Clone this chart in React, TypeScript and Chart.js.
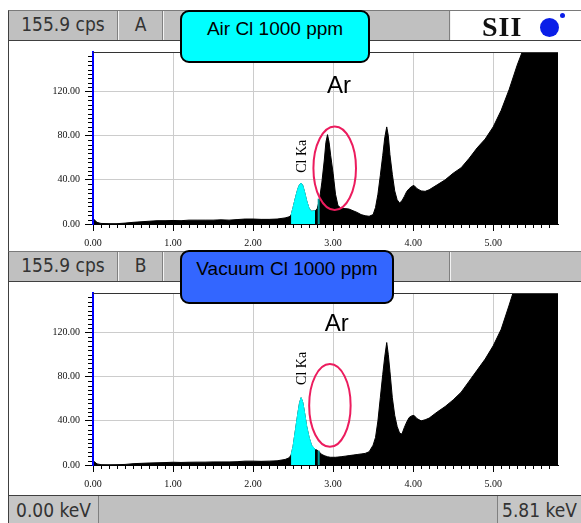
import React, { useEffect, useRef } from "react";
import { Chart, registerables } from "chart.js";

Chart.register(...registerables);

// energy channels shared by both spectra (keV)
const energyKeV = [
  0.0, 0.05, 0.1, 0.2, 0.3, 0.4, 0.5, 0.6, 0.7, 0.8,
  0.9, 1.0, 1.1, 1.2, 1.3, 1.4, 1.5, 1.6, 1.7, 1.8,
  1.9, 2.0, 2.1, 2.2, 2.3, 2.4, 2.45, 2.475, 2.5, 2.53,
  2.56, 2.58, 2.6, 2.62, 2.64, 2.67, 2.7, 2.73, 2.775, 2.8,
  2.83, 2.86, 2.89, 2.91, 2.93, 2.95, 2.97, 3.0, 3.03, 3.06,
  3.1, 3.15, 3.2, 3.25, 3.3, 3.35, 3.4, 3.45, 3.5, 3.53,
  3.56, 3.59, 3.62, 3.645, 3.67, 3.69, 3.71, 3.74, 3.77, 3.8,
  3.83, 3.86, 3.89, 3.92, 3.95, 3.98, 4.01, 4.05, 4.1, 4.15,
  4.2, 4.3, 4.4, 4.5, 4.6, 4.7, 4.8, 4.9, 5.0, 5.1,
  5.2, 5.3, 5.4, 5.5, 5.6, 5.7, 5.81,
];

// A: Air Cl 1000 ppm (cps)
const airCps = [
  5, 1.5, 0.5, 0.3, 0.3, 0.8, 1.5, 2.0, 2.5, 3.0,
  3.0, 3.2, 3.0, 3.5, 3.5, 3.5, 3.5, 3.8, 3.5, 4.0,
  4.5, 4.5, 4.2, 4.2, 4.5, 5.5, 6.5, 8, 15, 24,
  32, 35.5, 37, 35, 30, 21, 14, 11.5, 12, 13.5,
  22, 38, 58, 74, 81, 74, 62, 46, 27, 17,
  14, 14, 13.5, 12, 10.5, 8.5, 7.5, 7, 8.5, 15,
  27, 44, 62, 78, 88, 80, 63, 45, 30, 22,
  19, 21, 25, 29.5, 32, 34, 35, 32, 30, 29.6,
  31, 35.5, 40, 46, 51, 59.5, 69, 77, 88, 103,
  122, 144, 163, 185, 205, 225, 245,
];

// B: Vacuum Cl 1000 ppm (cps)
const vacuumCps = [
  4, 1, 0.3, 0.2, 0.3, 0.5, 1.2, 1.5, 1.8, 2.0,
  2.2, 2.5, 2.3, 2.5, 2.6, 2.6, 2.8, 2.8, 2.8, 3.0,
  3.5, 3.5, 3.3, 3.5, 3.8, 5.0, 6.5, 9, 17, 32,
  47, 56, 61, 57, 49, 35, 25, 18, 14, 13.5,
  11.5, 9.5, 8.5, 8, 7.5, 7.2, 7, 7, 7, 7.2,
  7.5, 8, 8.5, 9, 9.5, 10, 10.5, 12, 18, 25,
  40, 61, 82, 98, 111, 100, 85, 61, 45, 35,
  29, 28, 34, 39, 43, 44.5, 45, 42, 40, 41,
  42.5, 48, 53, 59, 66, 76, 86, 96, 108, 123,
  145, 168, 190, 210, 230, 250, 270,
];

const clKaWindow = [2.475, 2.775];
const roiMarkerKeV = 2.82;
const roiMarkerAir = 23;
const roiMarkerVacuum = 13;

const xTickKeV = [0, 1, 2, 3, 4, 5];
const yTickCps = [0, 40, 80, 120];
const fullScaleCps = 155.9;
const maxKeV = 5.81;

// label / ring positions in data units: [keV, cps] and ring radii [keV, cps]
const airNotes = { ar: [3.075, 124.4], cl: [2.61, 61.4], ring: [3.02, 50.5, 0.266, 37.8] };
const vacuumNotes = { ar: [3.046, 127.6], cl: [2.61, 87.6], ring: [2.96, 54, 0.259, 37.5] };

const uiFont = '"Liberation Sans Narrow", "DejaVu Sans Condensed", "Liberation Sans", sans-serif';

const overlay = {
  id: "xrfNotes",
  afterDraw(chart: any, _args: any, opts: any) {
    const { ctx, chartArea: a, scales } = chart;
    const x = scales.x;
    const y = scales.y;
    ctx.save();

    // plot frame top
    ctx.strokeStyle = "#333";
    ctx.lineWidth = 1;
    ctx.beginPath();
    ctx.moveTo(a.left, a.top + 0.5);
    ctx.lineTo(a.right, a.top + 0.5);
    ctx.stroke();

    // minor ticks
    ctx.strokeStyle = "#000";
    ctx.beginPath();
    for (let t = 1; t < Math.round(maxKeV * 10); t++) {
      if (t % 10 === 0) continue;
      const px = Math.round(x.getPixelForValue(t / 10)) + 0.5;
      ctx.moveTo(px, a.bottom);
      ctx.lineTo(px, a.bottom + 4);
    }
    for (let v = 4; v < fullScaleCps; v += 4) {
      if (v % 40 === 0) continue;
      const py = Math.round(y.getPixelForValue(v)) + 0.5;
      ctx.moveTo(a.left - 5, py);
      ctx.lineTo(a.left - 1, py);
    }
    ctx.stroke();

    // Ar label
    ctx.fillStyle = "#000";
    ctx.font = '24px "Liberation Sans", Arial, sans-serif';
    ctx.textAlign = "center";
    ctx.textBaseline = "middle";
    ctx.fillText("Ar", x.getPixelForValue(opts.ar[0]), y.getPixelForValue(opts.ar[1]));

    // Cl Ka label, vertical
    ctx.save();
    ctx.translate(x.getPixelForValue(opts.cl[0]), y.getPixelForValue(opts.cl[1]));
    ctx.rotate(-Math.PI / 2);
    ctx.font = '14px "Liberation Serif", serif';
    ctx.fillText("Cl Ka", 0, 0);
    ctx.restore();

    // ring
    const [re, rc, rk, rv] = opts.ring;
    const cx = x.getPixelForValue(re);
    const cy = y.getPixelForValue(rc);
    const rx = Math.abs(x.getPixelForValue(re + rk) - cx);
    const ry = Math.abs(y.getPixelForValue(rc + rv) - cy);
    ctx.strokeStyle = "#ec1c5e";
    ctx.lineWidth = 2;
    ctx.beginPath();
    ctx.ellipse(cx, cy, rx, ry, 0, 0, Math.PI * 2);
    ctx.stroke();

    ctx.restore();
  },
};

type PanelProps = {
  top: number;
  height: number;
  padTop: number;
  axisHeight: number;
  counts: number[];
  markerCps: number;
  notes: any;
};

const SpectrumPanel: React.FC<PanelProps> = ({ top, height, padTop, axisHeight, counts, markerCps, notes }) => {
  const canvasRef = useRef<HTMLCanvasElement>(null);

  useEffect(() => {
    const ctx = canvasRef.current?.getContext("2d");
    if (!ctx) return;
    const points = energyKeV.map((e, i) => ({ x: e, y: counts[i] }));
    const clPoints = points.filter((p) => p.x >= clKaWindow[0] && p.x <= clKaWindow[1]);
    const tickFont = { family: '"Liberation Serif", serif', size: 10 };

    const chart = new Chart(ctx, {
      type: "line",
      data: {
        datasets: [
          {
            data: [{ x: roiMarkerKeV, y: 0 }, { x: roiMarkerKeV, y: markerCps }],
            borderColor: "#009a9a",
            borderWidth: 2,
            pointRadius: 0,
            fill: false,
          },
          {
            data: clPoints,
            borderColor: "#00ffff",
            backgroundColor: "#00ffff",
            borderWidth: 1,
            pointRadius: 0,
            fill: "origin",
          },
          {
            data: points,
            borderColor: "#000",
            backgroundColor: "#000",
            borderWidth: 1,
            pointRadius: 0,
            fill: "origin",
          },
        ],
      },
      options: {
        animation: false,
        responsive: false,
        events: [],
        layout: { padding: { top: padTop, right: 23, left: 0, bottom: 0 } },
        plugins: {
          legend: { display: false },
          tooltip: { enabled: false },
          xrfNotes: notes,
        } as any,
        scales: {
          x: {
            type: "linear",
            min: 0,
            max: maxKeV,
            afterFit: (s: any) => {
              s.height = axisHeight;
            },
            afterBuildTicks: (s: any) => {
              s.ticks = xTickKeV.map((v) => ({ value: v }));
            },
            grid: { color: "#cccccc", tickColor: "#000", tickLength: 7 },
            border: { color: "#000", width: 1, z: 1 },
            ticks: {
              callback: (v: any) => Number(v).toFixed(2),
              font: tickFont,
              color: "#111",
              padding: 6,
              maxRotation: 0,
              autoSkip: false,
            },
          },
          y: {
            type: "linear",
            min: 0,
            max: fullScaleCps,
            afterFit: (s: any) => {
              s.width = 84;
            },
            afterBuildTicks: (s: any) => {
              s.ticks = yTickCps.map((v) => ({ value: v }));
            },
            grid: { color: "#cccccc", tickColor: "#000", tickLength: 8 },
            border: { color: "#0000ff", width: 2, z: 1 },
            ticks: {
              callback: (v: any) => Number(v).toFixed(2),
              font: tickFont,
              color: "#111",
              padding: 5,
            },
          },
        },
      },
      plugins: [overlay],
    });

    return () => {
      chart.destroy();
    };
  }, []);

  return (
    <canvas
      ref={canvasRef}
      width={572}
      height={height}
      style={{ position: "absolute", left: 9, top, width: 572, height }}
    />
  );
};

const cellText: React.CSSProperties = {
  position: "absolute",
  top: 0,
  height: "100%",
  textAlign: "center",
  color: "#333",
  font: `19px ${uiFont}`,
  lineHeight: "27px",
  boxSizing: "border-box",
};

const HeaderBar: React.FC<{ top: number; channel: string; logo?: boolean }> = ({ top, channel, logo }) => (
  <div
    style={{
      position: "absolute",
      left: 8,
      top,
      width: 573,
      height: 31,
      background: "#c0c0c0",
      borderTop: "1px solid #7a7a7a",
      borderBottom: "1px solid #404040",
      borderLeft: "1px solid #404040",
      boxSizing: "border-box",
    }}
  >
    <div style={{ ...cellText, left: 0, width: 109, borderRight: "1px solid #808080" }}>155.9 cps</div>
    <div style={{ ...cellText, left: 109, width: 45, borderLeft: "1px solid #f2f2f2", borderRight: "1px solid #808080" }}>
      {channel}
    </div>
    <div style={{ ...cellText, left: 154, width: 287, borderLeft: "1px solid #f2f2f2", borderRight: "1px solid #808080" }} />
    <div
      style={{
        ...cellText,
        left: 441,
        width: 131,
        borderLeft: "1px solid #f2f2f2",
        background: logo ? "#ffffff" : "transparent",
      }}
    >
      {logo && (
        <>
          <div
            style={{
              position: "absolute",
              left: 31,
              top: 1,
              font: 'bold 28px "Liberation Serif", "Times New Roman", serif',
              lineHeight: "29px",
              letterSpacing: 1,
              color: "#111",
            }}
          >
            SII
          </div>
          <div
            style={{ position: "absolute", left: 89, top: 7, width: 19, height: 19, borderRadius: "50%", background: "#0a1ee8" }}
          />
          <div
            style={{ position: "absolute", left: 109, top: 2, width: 5, height: 5, borderRadius: "50%", background: "#0a1ee8" }}
          />
        </>
      )}
    </div>
  </div>
);

const LabelBox: React.FC<{ top: number; width: number; height: number; color: string; text: string; pad: number }> = ({
  top,
  width,
  height,
  color,
  text,
  pad,
}) => (
  <div
    style={{
      position: "absolute",
      left: 180,
      top,
      width,
      height,
      boxSizing: "border-box",
      border: "2px solid #000",
      borderRadius: 9,
      background: color,
      textAlign: "center",
      paddingTop: pad,
      font: '19px "Liberation Sans", Arial, sans-serif',
      lineHeight: "19px",
      color: "#000",
    }}
  >
    {text}
  </div>
);

const App: React.FC = () => (
  <div
    style={{
      position: "absolute",
      left: 0,
      top: 0,
      width: 581,
      height: 523,
      overflow: "hidden",
      background: "#fff",
    }}
  >
    <div style={{ position: "absolute", left: 8, top: 10, width: 1, height: 513, background: "#404040" }} />

    <SpectrumPanel top={41} height={209} padTop={9} axisHeight={26} counts={airCps} markerCps={roiMarkerAir} notes={airNotes} />
    <SpectrumPanel
      top={282}
      height={213}
      padTop={10}
      axisHeight={30}
      counts={vacuumCps}
      markerCps={roiMarkerVacuum}
      notes={vacuumNotes}
    />

    <HeaderBar top={10} channel="A" logo />
    <HeaderBar top={251} channel="B" />

    <div
      style={{
        position: "absolute",
        left: 8,
        top: 495,
        width: 573,
        height: 28,
        background: "#c0c0c0",
        borderTop: "1px solid #404040",
        borderLeft: "1px solid #404040",
        boxSizing: "border-box",
      }}
    >
      <div style={{ ...cellText, left: 0, width: 90, lineHeight: "28px", background: "#c6c6c6", borderRight: "1px solid #808080" }}>
        0.00 keV
      </div>
      <div
        style={{
          ...cellText,
          left: 488,
          width: 84,
          lineHeight: "28px",
          background: "#c6c6c6",
          borderLeft: "1px solid #808080",
        }}
      >
        5.81 keV
      </div>
    </div>

    <LabelBox top={10} width={190} height={53} color="#00ffff" text="Air Cl 1000 ppm" pad={7} />
    <LabelBox top={250} width={214} height={54} color="#3366ff" text="Vacuum Cl 1000 ppm" pad={7} />
  </div>
);

export default App;
